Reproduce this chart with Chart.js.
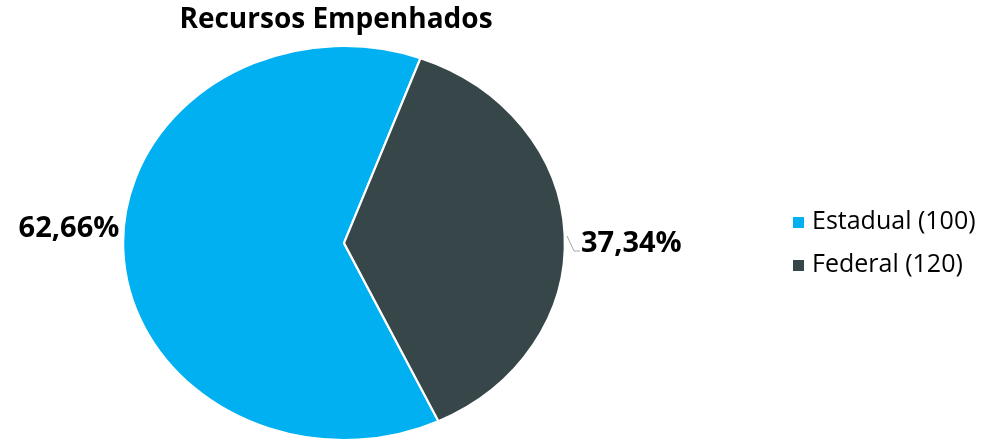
<!DOCTYPE html>
<html>
<head>
<meta charset="utf-8">
<script src="https://cdn.jsdelivr.net/npm/chart.js@4.4.0/dist/chart.umd.min.js"></script>
<style>
  html, body { margin: 0; padding: 0; background: #fff; }
  #wrap { width: 989px; height: 441px; position: relative; }
</style>
</head>
<body>
<div id="wrap"><canvas id="pieChart"></canvas></div>
<script>
const chartTitle = 'Recursos Empenhados';
const categories = ['Estadual', 'Federal'];
const legendLabels = ['Estadual (100)', 'Federal (120)'];
const shares = [62.66, 37.34];
const sliceColors = ['#00B0F0', '#374649'];

// the original pie is stretched sideways a bit
const stretchX = 222 / 198;

const fmtPct = v => v.toFixed(2).replace('.', ',') + '%';

const stretchPlugin = {
    id: 'stretch',
    beforeDatasetsDraw(chart) {
        const arc = chart.getDatasetMeta(0).data[0];
        const ctx = chart.ctx;
        ctx.save();
        ctx.translate(arc.x, arc.y);
        ctx.scale(stretchX, 1);
        ctx.translate(-arc.x, -arc.y);
    },
    afterDatasetsDraw(chart) {
        chart.ctx.restore();
    }
};

const decorPlugin = {
    id: 'decor',
    afterDraw(chart) {
        const ctx = chart.ctx;
        const meta = chart.getDatasetMeta(0);
        ctx.save();

        // title
        ctx.fillStyle = '#000';
        ctx.font = 'bold 28px "Open Sans"';
        ctx.textAlign = 'center';
        ctx.textBaseline = 'middle';
        ctx.fillText(chartTitle, 336, 20);

        // data labels
        ctx.font = 'bold 29px "Open Sans"';
        ctx.textBaseline = 'middle';
        meta.data.forEach((arc, i) => {
            const mid = (arc.startAngle + arc.endAngle) / 2;
            const ex = arc.x + Math.cos(mid) * arc.outerRadius * stretchX;
            if (i === 0) {
                ctx.textAlign = 'right';
                ctx.fillText(fmtPct(shares[i]), ex - 4, 229);
            } else {
                ctx.textAlign = 'left';
                ctx.fillText(fmtPct(shares[i]), 581, 244);
                ctx.strokeStyle = '#A6A6A6';
                ctx.lineWidth = 1;
                ctx.beginPath();
                ctx.moveTo(567, 236);
                ctx.lineTo(574, 251);
                ctx.lineTo(580, 251);
                ctx.stroke();
            }
        });

        // legend
        ctx.font = '25px "Open Sans"';
        ctx.textAlign = 'left';
        legendLabels.forEach((txt, i) => {
            const y = 222 + i * 43;
            ctx.fillStyle = sliceColors[i];
            ctx.fillRect(793, y - 5, 11, 11);
            ctx.fillStyle = '#000';
            ctx.fillText(txt, 812, y);
        });
        ctx.restore();
    }
};

const ctx = document.getElementById('pieChart').getContext('2d');
new Chart(ctx, {
    type: 'pie',
    data: {
        labels: categories,
        datasets: [{
            data: shares,
            backgroundColor: sliceColors,
            borderColor: '#ffffff',
            borderWidth: 2
        }]
    },
    options: {
        responsive: true,
        maintainAspectRatio: false,
        animation: false,
        rotation: 154.7,
        layout: { padding: { left: 146, right: 447, top: 45, bottom: 0 } },
        plugins: {
            legend: { display: false },
            tooltip: { enabled: false }
        }
    },
    plugins: [stretchPlugin, decorPlugin]
});
</script>
</body>
</html>
